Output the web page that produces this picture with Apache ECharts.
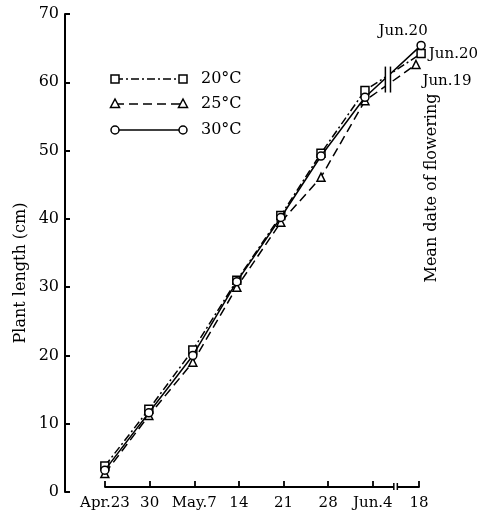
<!DOCTYPE html>
<html><head><meta charset="utf-8">
<script src="https://cdn.jsdelivr.net/npm/echarts@6/dist/echarts.min.js"></script>
<style>html,body{margin:0;padding:0;background:#fff}#c{width:492px;height:511px}</style>
</head><body><div id="c"></div>
<script>
// x positions in "days from Apr.23" (compressed after the axis break)
const tickValues = [0, 7, 14, 21, 28, 35, 42, 49.25];
const tickLabels = ['Apr.23', '30', 'May.7', '14', '21', '28', 'Jun.4', '18'];
const xPos20 = [0, 6.9, 13.8, 20.7, 27.6, 33.9, 40.8, 49.6];
const xPos25 = [0, 6.9, 13.8, 20.7, 27.6, 33.9, 40.8, 48.8];
const xPos30 = [0, 6.9, 13.8, 20.7, 27.6, 33.9, 40.8, 49.6];
const len20 = [3.8, 12.1, 20.8, 31.0, 40.5, 49.6, 58.8, 64.2];
const len25 = [2.7, 11.2, 19.0, 30.0, 39.5, 46.1, 57.3, 62.6];
const len30 = [3.2, 11.6, 20.0, 30.8, 40.2, 49.2, 57.8, 65.4];
const seriesNames = ['20°C', '25°C', '30°C'];
const flowerDates = ['Jun.20', 'Jun.19', 'Jun.20'];

const FONT = '"DejaVu Serif", "Liberation Serif", serif';
const chart = echarts.init(document.getElementById('c'), null, {renderer: 'canvas'});

const styles = [
  {symbol: 'rect', dash: [8, 3, 2, 3], lbl: {position: 'right', distance: 3, offset: [0, 1]}},
  {symbol: 'triangle', dash: [9, 5], lbl: {position: 'bottom', distance: 4, offset: [31, 0]}},
  {symbol: 'circle', dash: 'solid', lbl: {position: 'top', distance: 3, offset: [-18, 1]}}
];
const xs = [xPos20, xPos25, xPos30];
const ys = [len20, len25, len30];

function buildData(i) {
  return xs[i].map((x, k) => {
    const item = {value: [x, ys[i][k]]};
    if (k === xs[i].length - 1) {
      item.label = Object.assign({
        show: true, formatter: flowerDates[i], color: '#000',
        fontFamily: FONT, fontSize: 15
      }, styles[i].lbl);
    }
    return item;
  });
}

const series = seriesNames.map((n, i) => ({
  name: n, type: 'line', xAxisIndex: 0, yAxisIndex: 0,
  data: buildData(i), clip: false,
  symbol: styles[i].symbol, symbolSize: 8, showAllSymbol: true,
  itemStyle: {color: '#fff', borderColor: '#000', borderWidth: 1.5},
  lineStyle: {color: '#000', width: 1.5, type: styles[i].dash},
  z: 3 + i, animation: false
}));

const PX = 314 / 49.25; // pixels per day unit
chart.setOption({
  animation: false,
  backgroundColor: '#fff',
  grid: [
    {left: 65, top: 14, width: (52.5 + 6.25) * PX, height: 478},
    {left: 105, top: 480, width: 314, height: 7}
  ],
  xAxis: [
    {gridIndex: 0, type: 'value', min: -6.25, max: 52.5, show: false},
    {gridIndex: 1, type: 'value', min: 0, max: 49.25,
      axisLine: {show: true, lineStyle: {color: '#000', width: 1.8}},
      axisTick: {show: true, inside: true, length: 6, customValues: tickValues, lineStyle: {color: '#000', width: 1.8}},
      axisLabel: {show: true, customValues: tickValues, showMaxLabel: true, showMinLabel: true, margin: 9,
        color: '#000', fontFamily: FONT, fontSize: 15,
        formatter: v => { const k = tickValues.findIndex(t => Math.abs(t - v) < 1e-6); return k >= 0 ? tickLabels[k] : ''; }},
      splitLine: {show: false}}
  ],
  yAxis: [
    {gridIndex: 0, type: 'value', min: 0, max: 70, interval: 10,
      axisLine: {show: true, onZero: false, lineStyle: {color: '#000', width: 2}},
      axisTick: {show: true, inside: true, length: 5, lineStyle: {color: '#000', width: 2}},
      axisLabel: {color: '#000', fontFamily: FONT, fontSize: 16, margin: 6},
      splitLine: {show: false}},
    {gridIndex: 1, type: 'value', show: false, min: 0, max: 1}
  ],
  series: series
});

// decorations: legend, axis breaks, side annotation
const g = [];
const legendRows = [79, 104, 130];
legendRows.forEach((yy, i) => {
  const x1 = 115, x2 = 183;
  g.push({type: 'line', shape: {x1: x1, y1: yy, x2: x2, y2: yy},
    style: {stroke: '#000', lineWidth: 1.5, lineDash: styles[i].dash === 'solid' ? null : styles[i].dash}, z: 10});
  [x1, x2].forEach(cx => {
    if (i === 0) g.push({type: 'rect', shape: {x: cx - 4, y: yy - 4, width: 8, height: 8}, style: {fill: '#fff', stroke: '#000', lineWidth: 1.5}, z: 11});
    if (i === 1) g.push({type: 'polygon', shape: {points: [[cx, yy - 5], [cx - 4.5, yy + 3.5], [cx + 4.5, yy + 3.5]]}, style: {fill: '#fff', stroke: '#000', lineWidth: 1.5}, z: 11});
    if (i === 2) g.push({type: 'circle', shape: {cx: cx, cy: yy, r: 4}, style: {fill: '#fff', stroke: '#000', lineWidth: 1.5}, z: 11});
  });
  g.push({type: 'text', x: 201, y: yy, style: {text: seriesNames[i], fill: '#000', font: '16px ' + FONT, textVerticalAlign: 'middle'}, z: 11});
});

// break across the plotted lines
const b1 = chart.convertToPixel({xAxisIndex: 0, yAxisIndex: 0}, [44.0, 62.3]);
const b2 = chart.convertToPixel({xAxisIndex: 0, yAxisIndex: 0}, [44.8, 58.5]);
g.push({type: 'rect', shape: {x: b1[0], y: b1[1], width: b2[0] - b1[0], height: b2[1] - b1[1]}, style: {fill: '#fff'}, z: 20});
g.push({type: 'line', shape: {x1: b1[0], y1: b1[1], x2: b1[0], y2: b2[1]}, style: {stroke: '#000', lineWidth: 1.5}, z: 21});
g.push({type: 'line', shape: {x1: b2[0], y1: b1[1], x2: b2[0], y2: b2[1]}, style: {stroke: '#000', lineWidth: 1.5}, z: 21});

// break on the x axis
const a1 = chart.convertToPixel({xAxisIndex: 1, yAxisIndex: 1}, [45.3, 0]);
const a2 = chart.convertToPixel({xAxisIndex: 1, yAxisIndex: 1}, [45.85, 0]);
g.push({type: 'rect', shape: {x: a1[0], y: a1[1] - 3, width: a2[0] - a1[0], height: 6}, style: {fill: '#fff'}, z: 20});
g.push({type: 'line', shape: {x1: a1[0], y1: a1[1] - 4, x2: a1[0], y2: a1[1] + 3}, style: {stroke: '#000', lineWidth: 1.5}, z: 21});
g.push({type: 'line', shape: {x1: a2[0], y1: a2[1] - 4, x2: a2[0], y2: a2[1] + 3}, style: {stroke: '#000', lineWidth: 1.5}, z: 21});

g.push({type: 'text', x: 432, y: 188, rotation: Math.PI / 2,
  style: {text: 'Mean date of flowering', fill: '#000', font: '16px ' + FONT, textAlign: 'center', textVerticalAlign: 'middle'}, z: 11});
g.push({type: 'text', x: 21, y: 273, rotation: Math.PI / 2,
  style: {text: 'Plant length (cm)', fill: '#000', font: '16px ' + FONT, textAlign: 'center', textVerticalAlign: 'middle'}, z: 11});

chart.setOption({graphic: g});
</script>
</body></html>
